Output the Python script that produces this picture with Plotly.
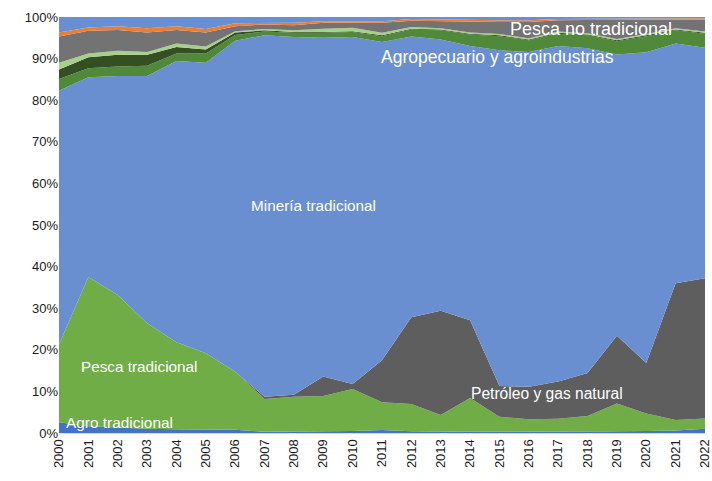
import plotly.graph_objects as go

years = list(range(2000, 2023))

agro_tradicional = [2.6, 1.6, 1.3, 1.0, 0.9, 0.8, 0.8, 0.3, 0.3, 0.4, 0.5, 0.7, 0.4, 0.3, 0.3, 0.3, 0.3, 0.4, 0.4, 0.4, 0.5, 0.6, 1.0]
pesca_tradicional = [18.7, 35.9, 31.9, 25.4, 20.9, 18.4, 13.9, 7.9, 8.4, 8.5, 10.1, 6.7, 6.6, 4.0, 8.1, 3.6, 3.0, 3.0, 3.7, 6.7, 4.2, 2.5, 2.5]
petroleo_gas = [0, 0, 0, 0, 0, 0, 0, 0.5, 0.5, 4.7, 1.2, 10.1, 20.8, 25.1, 18.7, 7.4, 7.8, 9.0, 10.3, 16.3, 12.1, 32.9, 33.7]
mineria_tradicional = [61.0, 48.0, 52.6, 59.4, 67.6, 69.8, 79.6, 86.9, 86.0, 81.4, 83.4, 76.5, 67.5, 65.2, 65.9, 80.7, 80.5, 80.6, 78.1, 67.6, 74.7, 57.6, 55.4]
agropecuario = [2.8, 2.2, 2.3, 2.5, 1.8, 2.2, 1.4, 0.9, 1.0, 1.2, 1.2, 1.4, 1.7, 2.2, 2.8, 3.4, 2.8, 3.0, 3.1, 3.2, 3.9, 3.2, 3.4]
textil = [2.3, 2.6, 2.8, 2.6, 1.6, 1.0, 0.6, 0.3, 0.2, 0.2, 0.2, 0.2, 0.2, 0.2, 0.2, 0.2, 0.2, 0.2, 0.2, 0.2, 0.2, 0.2, 0.2]
quimico = [1.6, 0.9, 1.0, 0.7, 0.8, 0.7, 0.3, 0.3, 0.4, 0.8, 0.8, 0.6, 0.4, 0.3, 0.3, 0.3, 0.3, 0.3, 0.3, 0.3, 0.3, 0.3, 0.3]
pesca_no_tradicional = [6.3, 5.5, 5.0, 4.7, 3.3, 3.4, 1.2, 1.1, 1.2, 1.4, 1.2, 2.4, 1.5, 1.7, 2.5, 2.9, 3.9, 2.7, 3.2, 4.6, 3.4, 2.1, 2.9]
siderometalurgico = [1.0, 0.8, 0.9, 1.0, 0.9, 0.8, 0.7, 0.4, 0.6, 0.4, 0.4, 0.4, 0.4, 0.4, 0.4, 0.4, 0.4, 0.3, 0.3, 0.3, 0.3, 0.3, 0.3]
otros = [3.7, 2.5, 2.2, 2.7, 2.2, 2.9, 1.5, 1.4, 1.4, 1.0, 1.0, 1.0, 0.5, 0.6, 0.8, 0.8, 0.8, 0.5, 0.4, 0.4, 0.4, 0.3, 0.3]

series = [
    ("Agro tradicional", agro_tradicional, "#4472C4"),
    ("Pesca tradicional", pesca_tradicional, "#70AD47"),
    ("Petróleo y gas natural", petroleo_gas, "#5E5E5E"),
    ("Minería tradicional", mineria_tradicional, "#6A8FD0"),
    ("Agropecuario y agroindustrias", agropecuario, "#50893A"),
    ("Textil", textil, "#344F22"),
    ("Químico", quimico, "#A6D18A"),
    ("Pesca no tradicional", pesca_no_tradicional, "#737373"),
    ("Sidero-metalúrgico", siderometalurgico, "#ED7D31"),
    ("Otros", otros, "#6A8FD0"),
]

fig = go.Figure()
for name, vals, color in series:
    fig.add_trace(go.Scatter(
        x=years, y=vals, name=name, mode="lines",
        stackgroup="one", groupnorm="percent",
        line=dict(width=0, color=color), fillcolor=color,
        hoverinfo="x+y+name",
    ))

labels = [
    ("Pesca no tradicional", 2018.12, 97.0, 18),
    ("Agropecuario y agroindustrias", 2014.93, 90.4, 17.5),
    ("Minería tradicional", 2008.67, 54.8, 15.3),
    ("Pesca tradicional", 2002.75, 16.1, 15.3),
    ("Petróleo y gas natural", 2016.63, 9.4, 15.6),
    ("Agro tradicional", 2002.07, 2.6, 15.4),
]
for text, lx, ly, fs in labels:
    fig.add_annotation(x=lx, y=ly, text=text, showarrow=False,
                       font=dict(family="Liberation Sans, Arial", size=fs, color="white"),
                       xanchor="center", yanchor="middle")

fig.update_layout(
    width=712, height=481,
    margin=dict(l=59, r=7, t=17, b=48),
    paper_bgcolor="white", plot_bgcolor="white",
    showlegend=False,
    font=dict(family="Liberation Sans, Arial", size=13, color="#262626"),
)
fig.update_xaxes(range=[2000, 2022], tickmode="array", tickvals=years,
                 ticktext=[str(y) for y in years], tickangle=-90,
                 ticklabeloverflow="allow", automargin=False,
                 showgrid=False, zeroline=False, showline=True, linecolor="#D9D9D9",
                 tickfont=dict(size=13, color="#1a1a1a"))
fig.update_yaxes(range=[0, 100], tickmode="array", tickvals=list(range(0, 101, 10)),
                 ticktext=[f"{v}%" for v in range(0, 101, 10)], automargin=False,
                 showgrid=False, zeroline=False, showline=False,
                 tickfont=dict(size=13, color="#1a1a1a"))

fig.write_html("out.html", config={"displayModeBar": False},
               post_script="document.body.style.margin='0';")
